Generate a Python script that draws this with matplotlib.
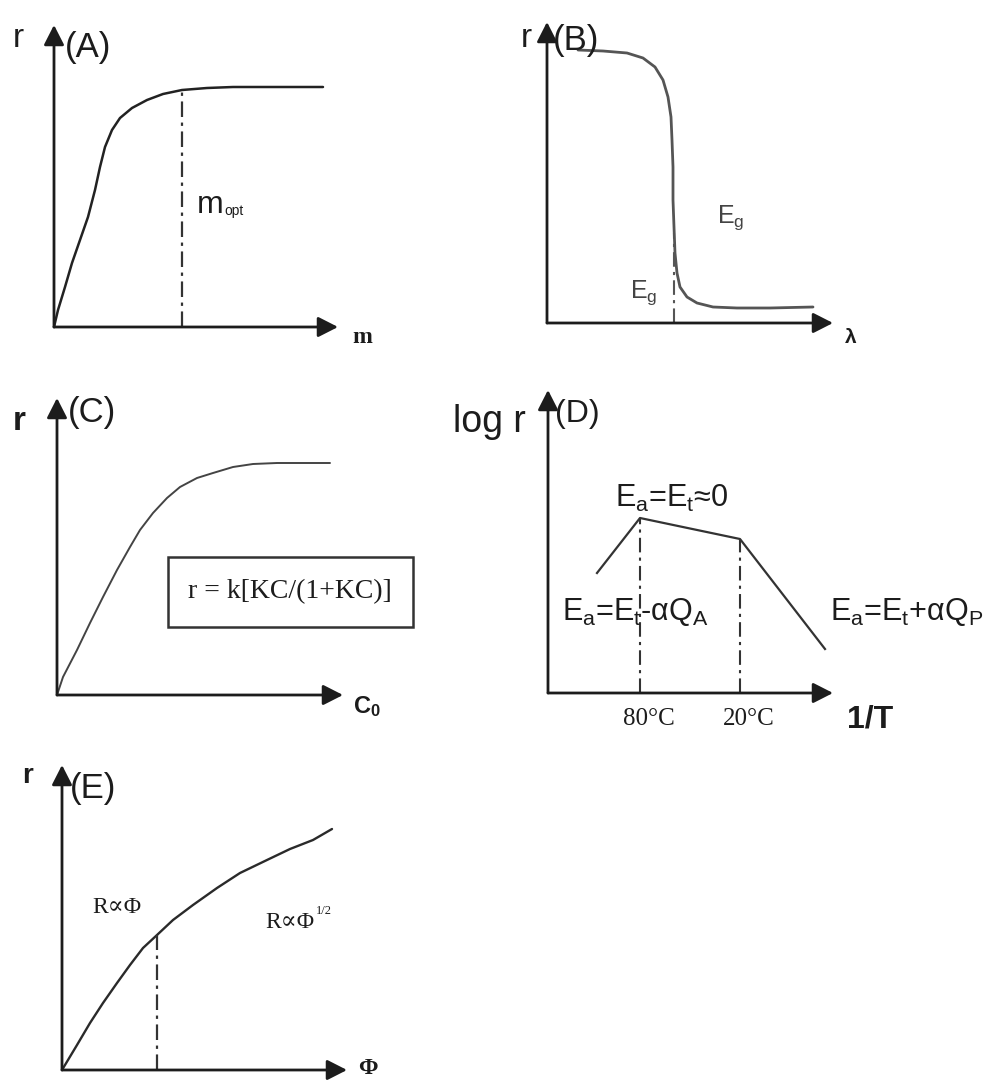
import matplotlib
matplotlib.use('Agg')
import matplotlib.pyplot as plt
from matplotlib.patches import Rectangle

plt.rcParams['mathtext.fontset'] = 'custom'
plt.rcParams['mathtext.rm'] = 'Liberation Sans'
plt.rcParams['mathtext.default'] = 'regular'

# ---------------- data (local units, origin at axis corner) ----------------
# (A) rate vs catalyst mass
a_x = [0, 4, 11, 18, 26, 34, 41, 46, 51, 58, 66, 78, 93, 109, 128, 153, 179, 269]
a_y = [0, 17, 40, 64, 87, 110, 137, 160, 180, 197, 209, 219, 227, 233, 237, 239, 240, 240]
a_mopt = 128

# (B) rate vs wavelength
b_x = [31, 56, 80, 96, 108, 116, 121, 124, 125, 126, 126, 127, 128, 130, 133, 140, 150, 166, 190, 223, 266]
b_y = [273, 272, 270, 265, 256, 243, 226, 206, 183, 156, 123, 96, 70, 50, 36, 26, 20, 16, 15, 15, 16]
b_eg = 127
b_eg_top = 90

# (C) rate vs initial concentration
c_x = [0, 6, 20, 33, 46, 60, 73, 83, 96, 110, 123, 140, 156, 176, 196, 220, 273]
c_y = [0, 18, 45, 72, 98, 125, 148, 165, 182, 197, 208, 217, 222, 228, 231, 232, 232]

# (D) log r vs 1/T
d_x = [49, 92, 192, 277]
d_y = [120, 175, 154, 44]
d_temp_labels = ['80°C', '20°C']

# (E) rate vs photon flux
e_x = [0, 15, 28, 41, 55, 68, 81, 95, 111, 131, 155, 178, 205, 228, 251, 270]
e_y = [0, 25, 47, 67, 87, 105, 122, 135, 150, 165, 182, 197, 210, 221, 230, 241]
e_break = 95

# ---------------- drawing ----------------
W_PX, H_PX = 1007, 1080
INK = '#1c1c1c'
SANS = ['Liberation Sans', 'DejaVu Sans']
SERIF = ['Liberation Serif', 'DejaVu Serif']
DASH = (0, (7, 2.5, 1.5, 2.5))

fig = plt.figure(figsize=(W_PX / 100, H_PX / 100), dpi=100)
fig.patch.set_facecolor('white')


def panel(ox, oy, w, h):
    ax = fig.add_axes([ox / W_PX, (H_PX - oy) / H_PX, w / W_PX, h / H_PX])
    ax.set_xlim(0, w)
    ax.set_ylim(0, h)
    ax.axis('off')
    for tip in [(w, 0), (0, h)]:
        ax.annotate('', xy=tip, xytext=(0, 0), annotation_clip=False,
                    arrowprops=dict(arrowstyle='-|>,head_length=0.55,head_width=0.28',
                                    lw=2.0, color=INK, shrinkA=0, shrinkB=0,
                                    mutation_scale=22))
    return ax


def txt(ax, x, y, s, size, family=SANS, weight='normal', color=INK, ha='left', va='baseline'):
    ax.text(x, y, s, fontsize=size, family=family, weight=weight, color=color,
            ha=ha, va=va, clip_on=False)


# (A)
ax = panel(54, 327, 284, 302)
ax.plot(a_x, a_y, color='#222222', lw=1.8, clip_on=False, solid_capstyle='round')
ax.plot([a_mopt, a_mopt], [0, 237], color='#333333', lw=1.6, linestyle=DASH)
txt(ax, -41, 280, 'r', 24)
txt(ax, 11, 270, '(A)', 25)
txt(ax, 143, 114, 'm', 23)
txt(ax, 170, 112, 'opt', 10)
txt(ax, 298, -16, 'm', 17, family=SERIF, weight='bold')

# (B)
ax = panel(547, 323, 286, 301)
ax.plot(b_x, b_y, color='#555555', lw=2.0, clip_on=False, solid_capstyle='round')
ax.plot([b_eg, b_eg], [0, b_eg_top], color='#555555', lw=1.5, linestyle=DASH)
txt(ax, -26, 276, 'r', 24)
txt(ax, 6, 273, '(B)', 25)
txt(ax, 170, 100, 'E$_g$', 18, color='#444444')
txt(ax, 83, 25, 'E$_g$', 18, color='#444444')
txt(ax, 298, -20, 'λ', 15, weight='bold')

# (C)
ax = panel(57, 695, 286, 297)
ax.plot(c_x, c_y, color='#444444', lw=1.4, clip_on=False, solid_capstyle='round')
ax.add_patch(Rectangle((111, 68), 245, 70, fill=False, lw=1.8, edgecolor='#333333', clip_on=False))
txt(ax, 233, 103, 'r = k[KC/(1+KC)]', 20, family=SERIF, ha='center', va='center')
txt(ax, -44, 265, 'r', 24, weight='bold')
txt(ax, 11, 273, '(C)', 25)
txt(ax, 296, -18, 'C$_0$', 17, weight='bold')

# (D)
ax = panel(548, 693, 285, 303)
ax.plot(d_x, d_y, color='#333333', lw=1.6, clip_on=False)
for xv, yv in zip(d_x[1:3], d_y[1:3]):
    ax.plot([xv, xv], [0, yv], color='#333333', lw=1.5, linestyle=DASH)
for xv, lab in zip(d_x[1:3], d_temp_labels):
    txt(ax, xv + 9, -15, lab, 18, family=SERIF, ha='center', va='top')
txt(ax, -95, 261, 'log r', 27)
txt(ax, 7, 271, '(D)', 23)
txt(ax, 67, 186, 'E$_a$=E$_t$≈0', 22)
txt(ax, 14, 73, 'E$_a$=E$_t$-αQ$_A$', 22)
txt(ax, 282, 73, 'E$_a$=E$_t$+αQ$_P$', 22)
txt(ax, 299, -34, '1/T', 23, weight='bold')

# (E)
ax = panel(62, 1070, 285, 305)
ax.plot(e_x, e_y, color='#2a2a2a', lw=1.7, clip_on=False, solid_capstyle='round')
ax.plot([e_break, e_break], [0, 135], color='#333333', lw=1.6, linestyle=DASH)
txt(ax, -40, 287, 'r', 20, weight='bold')
txt(ax, 8, 272, '(E)', 25)
txt(ax, 30, 157, 'R∝Φ', 17, family=SERIF)
txt(ax, 203, 142, 'R∝Φ', 17, family=SERIF)
txt(ax, 254, 156, '1/2', 9, family=SERIF)
txt(ax, 296, 1, 'Φ', 17, family=SERIF, weight='bold', va='center')

fig.savefig('out.png', dpi=100, facecolor='white')
